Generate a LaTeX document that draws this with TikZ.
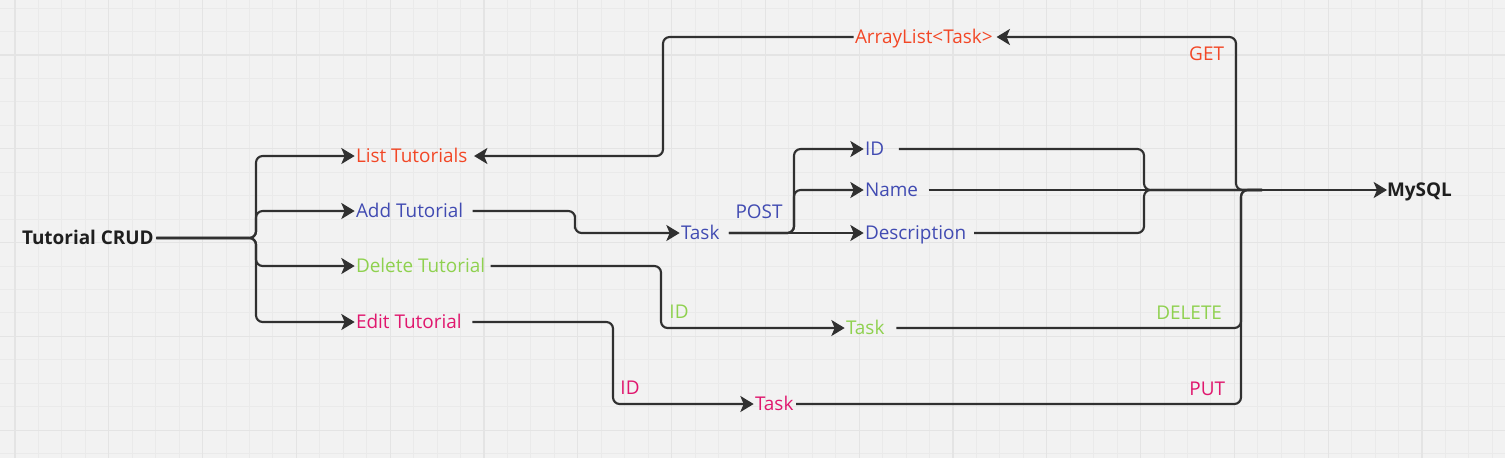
\documentclass[tikz,border=0pt]{standalone}
\usepackage{fontspec}
\setmainfont{Open Sans}
\usetikzlibrary{arrows.meta}
\definecolor{bg}{HTML}{F2F2F2}
\definecolor{gridminor}{HTML}{EAEAEA}
\definecolor{gridmajor}{HTML}{E4E4E4}
\definecolor{linec}{HTML}{303030}
\definecolor{cred}{HTML}{F24726}
\definecolor{cblue}{HTML}{414BB2}
\definecolor{cgreen}{HTML}{8FD14F}
\definecolor{cpink}{HTML}{E0176E}
\begin{document}
\begin{tikzpicture}[x=0.75pt,y=-0.75pt,
  lbl/.style={inner sep=0pt, outer sep=0pt, font=\fontsize{14.2}{17}\selectfont, text height=10.1pt, text depth=0pt, anchor=west},
  hdr/.style={lbl, font=\fontsize{14.2}{17}\selectfont\bfseries, text=black!88},
  conn/.style={draw=linec, line width=1.6pt, rounded corners=5pt},
  arr/.style={conn, -{Stealth[length=10pt,width=12pt,inset=2.5pt]}},
  minorline/.style={draw=gridminor, line width=0.75pt},
  majorline/.style={draw=gridmajor, line width=0.9pt},
]
\useasboundingbox (0,0) rectangle (1505,458);
\fill[bg] (0,0) rectangle (1505,458);
\begin{scope}
\clip (0,0) rectangle (1505,458);
\foreach \i in {-1,...,64} { \draw[minorline] ({15+\i*23.45},0) -- ({15+\i*23.45},458); }
\foreach \i in {-3,...,17} { \draw[minorline] (0,{55+\i*23.45}) -- (1505,{55+\i*23.45}); }
\foreach \i in {0,...,16} { \draw[majorline] ({15+\i*93.8},0) -- ({15+\i*93.8},458); }
\foreach \i in {-1,...,4} { \draw[majorline] (0,{55+\i*93.8}) -- (1505,{55+\i*93.8}); }
\end{scope}

% nodes
\node[hdr] (crud) at (22,238) {Tutorial CRUD};
\node[lbl,text=cred] (list) at (356,156) {List Tutorials};
\node[lbl,text=cblue] (add) at (356,211) {Add Tutorial};
\node[lbl,text=cgreen] (del) at (356,266) {Delete Tutorial};
\node[lbl,text=cpink] (edit) at (356,322) {Edit Tutorial};
\node[lbl,text=cred] (arrl) at (855,37) {ArrayList\textless Task\textgreater};
\node[lbl,text=cblue] (taskA) at (681,233) {Task};
\node[lbl,text=cblue] (id) at (865,149) {ID};
\node[lbl,text=cblue] (name) at (865,190) {Name};
\node[lbl,text=cblue] (desc) at (865,233) {Description};
\node[lbl,text=cgreen] (taskD) at (846,328) {Task};
\node[lbl,text=cpink] (taskE) at (755,404) {Task};
\node[hdr] (mysql) at (1387,190) {MySQL};

% connector labels
\node[lbl,text=cblue,anchor=center] (post) at (759,212) {POST};
\node[lbl,text=cred,anchor=east] (get) at (1224,54) {GET};
\node[lbl,text=cgreen,anchor=east] (delete) at (1222,313) {DELETE};
\node[lbl,text=cpink,anchor=east] (put) at (1225,389) {PUT};
\node[lbl,text=cgreen,anchor=center] (idD) at (679,312) {ID};
\node[lbl,text=cpink,anchor=center] (idE) at (630,388) {ID};

% helper coordinates
\coordinate (j1) at (256,238);
\coordinate (vL) at (663,100);
\coordinate (g1) at (1236,120);
\coordinate (m1) at (1262,190);
\coordinate (aA) at (575,222);
\coordinate (pB) at (794,190);
\coordinate (bx) at (1144,190);
\coordinate (dD) at (661,300);
\coordinate (vD) at (1241,260);
\coordinate (eE) at (613,360);

% connectors
\draw[arr] ([xshift=2pt]crud.east) -- (j1) |- ([xshift=-1pt]list.west);
\draw[arr] ([xshift=2pt]crud.east) -- (j1) |- ([xshift=-1pt]add.west);
\draw[arr] ([xshift=2pt]crud.east) -- (j1) |- ([xshift=-1pt]del.west);
\draw[arr] ([xshift=2pt]crud.east) -- (j1) |- ([xshift=-1pt]edit.west);

\draw[arr] ([xshift=-1pt]arrl.west) -| (vL) |- ([xshift=5pt]list.east);
\draw[arr] (m1) -| (g1) |- ([xshift=3pt]arrl.east);

\draw[arr] ([xshift=7pt]add.east) -| (aA) |- ([xshift=-1pt]taskA.west);
\draw[arr] ([xshift=7pt]taskA.east) -- ([xshift=-1pt]desc.west);
\draw[arr] ([xshift=7pt]taskA.east) -| (pB) |- ([xshift=-1pt]id.west);
\draw[arr] ([xshift=7pt]taskA.east) -| (pB) -- ([xshift=-1pt]name.west);

\draw[conn] ([xshift=11pt]id.east) -| (bx) -- (m1);
\draw[conn] ([xshift=6pt]desc.east) -| (bx) -- (m1);
\draw[arr] ([xshift=8pt]name.east) -- (mysql.west);

\draw[arr] ([xshift=4pt]del.east) -| (dD) |- ([xshift=-1pt]taskD.west);
\draw[conn] ([xshift=9pt]taskD.east) -| (vD) |- (m1);

\draw[arr] ([xshift=8pt]edit.east) -| (eE) |- ([xshift=-1pt]taskE.west);
\draw[conn] ([xshift=2pt]taskE.east) -| (vD) |- (m1);
\end{tikzpicture}
\end{document}
